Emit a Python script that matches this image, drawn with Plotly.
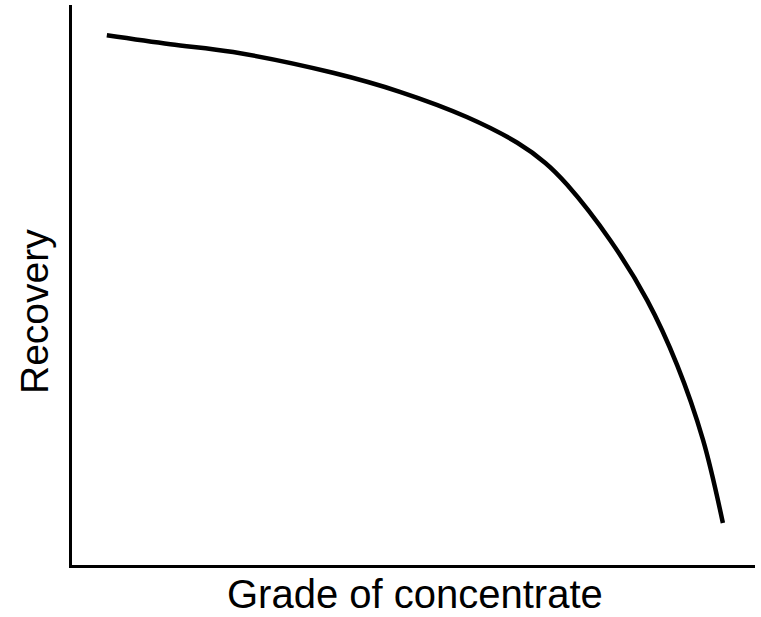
import plotly.graph_objects as go

grade = [5.1, 14.4, 23.6, 38.2, 48.0, 57.8, 65.2, 69.3, 72.5, 78.8, 84.2, 88.6, 92.4, 95.3]
recovery = [94.6, 93.0, 91.6, 87.9, 84.5, 80.0, 75.4, 71.8, 67.9, 58.0, 47.3, 35.7, 22.3, 7.5]

x_title = "Grade of concentrate"
y_title = "Recovery"

fig = go.Figure()
fig.add_trace(go.Scatter(
    x=grade, y=recovery, mode="lines",
    line=dict(color="black", width=4.5, shape="spline", smoothing=1.0),
    hoverinfo="skip", showlegend=False,
))

fig.update_layout(
    width=761, height=617,
    margin=dict(l=72, r=6, t=5, b=52, autoexpand=False),
    paper_bgcolor="white", plot_bgcolor="white",
    font=dict(family="Liberation Sans, Arial, sans-serif", color="black"),
    xaxis=dict(range=[0, 100], showline=True, linecolor="black", linewidth=3,
               showgrid=False, zeroline=False, showticklabels=False, ticks=""),
    yaxis=dict(range=[0, 100], showline=True, linecolor="black", linewidth=3,
               showgrid=False, zeroline=False, showticklabels=False, ticks=""),
    annotations=[
        dict(text=x_title, xref="paper", yref="paper", x=0.502, y=-0.052,
             xanchor="center", yanchor="middle", showarrow=False,
             font=dict(size=40, color="black")),
        dict(text=y_title, xref="paper", yref="paper", x=-0.054, y=0.452,
             xanchor="center", yanchor="middle", showarrow=False, textangle=-90,
             font=dict(size=39, color="black")),
    ],
)

fig.write_html("out.html", config={"displayModeBar": False},
               post_script="document.body.style.margin='0';")
